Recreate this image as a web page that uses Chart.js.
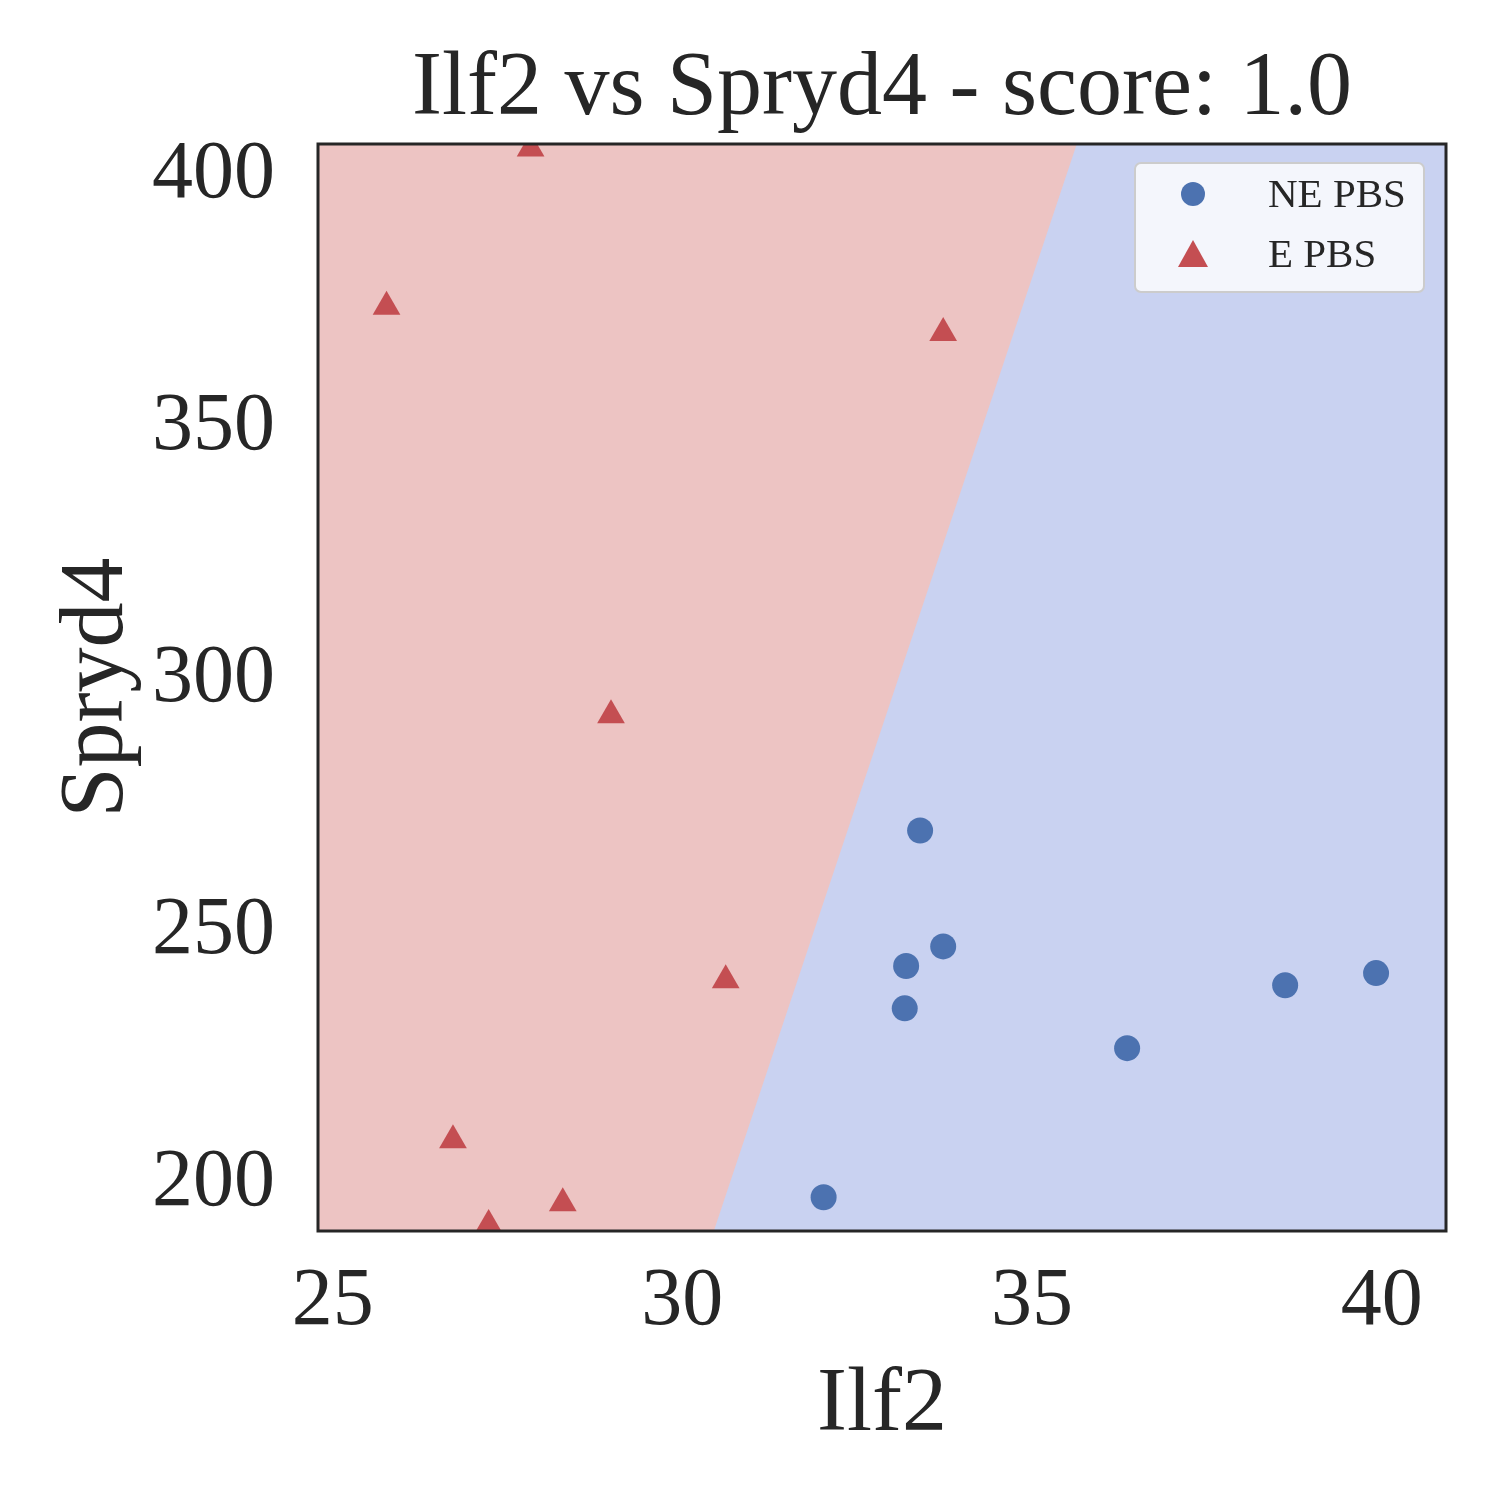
<!DOCTYPE html>
<html>
<head>
<meta charset="utf-8">
<script src="https://cdn.jsdelivr.net/npm/chart.js@4"></script>
<style>
  body { margin: 0; background: #fff; }
  #wrap { width: 1500px; height: 1500px; }
</style>
</head>
<body>
<div id="wrap"><canvas id="svmChart" width="1500" height="1500"></canvas></div>
<script>
// ----- data -----
var nePbsX = [32.02, 33.40, 33.73, 33.20, 33.18, 36.36, 38.62, 39.92];
var nePbsY = [197.2, 270.0, 247.0, 243.1, 234.7, 226.8, 239.3, 241.7];
var ePbsX = [27.83, 25.77, 33.73, 28.98, 30.62, 26.72, 28.29, 27.23];
var ePbsY = [405.4, 374.0, 368.8, 292.9, 240.3, 208.5, 196.0, 191.7];
// decision boundary: x at the bottom and at the top of the plot
var boundaryX = [30.45, 35.64];
var boundaryY = [190.5, 406.3];
var xTicks = [25, 30, 35, 40];
var yTicks = [200, 250, 300, 350, 400];

var FONT = "'Liberation Serif', 'DejaVu Serif', serif";
var INK = '#262626';

function toPoints(xs, ys) {
  return xs.map(function(x, i) { return { x: x, y: ys[i] }; });
}

// background regions, frame and legend
var regionPlugin = {
  id: 'regions',
  beforeDatasetsDraw: function(chart) {
    var c = chart.ctx, a = chart.chartArea;
    var sx = chart.scales.x, sy = chart.scales.y;
    c.save();
    c.fillStyle = '#c9d2f1';
    c.fillRect(a.left, a.top, a.right - a.left, a.bottom - a.top);
    c.fillStyle = '#edc4c3';
    c.beginPath();
    c.moveTo(a.left, a.bottom);
    c.lineTo(sx.getPixelForValue(boundaryX[0]), sy.getPixelForValue(boundaryY[0]));
    c.lineTo(sx.getPixelForValue(boundaryX[1]), sy.getPixelForValue(boundaryY[1]));
    c.lineTo(a.left, a.top);
    c.closePath();
    c.fill();
    c.restore();
  },
  afterDraw: function(chart) {
    var c = chart.ctx, a = chart.chartArea;
    c.save();
    c.strokeStyle = INK;
    c.lineWidth = 3;
    c.strokeRect(a.left, a.top, a.right - a.left, a.bottom - a.top);

    // legend box
    var lx = 1135, ly = 163, lw = 289, lh = 129;
    c.fillStyle = 'rgba(255,255,255,0.8)';
    c.strokeStyle = '#cccccc';
    c.lineWidth = 2;
    c.beginPath();
    c.roundRect(lx, ly, lw, lh, 6);
    c.fill();
    c.stroke();
    c.fillStyle = '#4c72b0';
    c.beginPath();
    c.arc(1193, 194, 12, 0, Math.PI * 2);
    c.fill();
    c.fillStyle = '#c44e52';
    c.beginPath();
    c.moveTo(1193, 240);
    c.lineTo(1208, 267);
    c.lineTo(1178, 267);
    c.closePath();
    c.fill();
    c.fillStyle = INK;
    c.font = '41px ' + FONT;
    c.textBaseline = 'middle';
    c.fillText('NE PBS', 1268, 196);
    c.fillText('E PBS', 1268, 256);
    c.restore();
  }
};

var ctx = document.getElementById('svmChart').getContext('2d');
var svmChart = new Chart(ctx, {
  type: 'scatter',
  data: {
    datasets: [
      {
        label: 'NE PBS',
        data: toPoints(nePbsX, nePbsY),
        pointStyle: 'circle',
        pointRadius: 13,
        backgroundColor: '#4c72b0',
        borderWidth: 0
      },
      {
        label: 'E PBS',
        data: toPoints(ePbsX, ePbsY),
        pointStyle: 'triangle',
        pointRadius: 16,
        backgroundColor: '#c44e52',
        borderWidth: 0
      }
    ]
  },
  plugins: [regionPlugin],
  options: {
    responsive: false,
    animation: false,
    devicePixelRatio: 1,
    layout: { padding: { left: 40, right: 54, top: 0, bottom: 40 } },
    scales: {
      x: {
        min: 24.79, max: 40.92,
        afterBuildTicks: function(s) { s.ticks = xTicks.map(function(v) { return { value: v }; }); },
        afterFit: function(s) { s.height = 229; },
        grid: { display: false, drawTicks: false },
        border: { display: false },
        ticks: { color: INK, padding: 22, font: { family: FONT, size: 82 } },
        title: { display: true, text: 'Ilf2', color: INK, padding: { top: 0, bottom: 0 }, font: { family: FONT, size: 90 } }
      },
      y: {
        min: 190.5, max: 406.3,
        afterBuildTicks: function(s) { s.ticks = yTicks.map(function(v) { return { value: v }; }); },
        afterFit: function(s) { s.width = 278; },
        grid: { display: false, drawTicks: false },
        border: { display: false },
        ticks: { color: INK, padding: 43, font: { family: FONT, size: 82 } },
        title: { display: true, text: 'Spryd4', color: INK, padding: { top: 4, bottom: 4 }, font: { family: FONT, size: 90 } }
      }
    },
    plugins: {
      legend: { display: false },
      tooltip: { enabled: false },
      title: {
        display: true,
        fullSize: false,
        text: 'Ilf2 vs Spryd4 - score: 1.0',
        color: INK,
        padding: { top: 36, bottom: 0 },
        font: { family: FONT, size: 90, weight: 'normal' }
      }
    }
  }
});
</script>
</body>
</html>
